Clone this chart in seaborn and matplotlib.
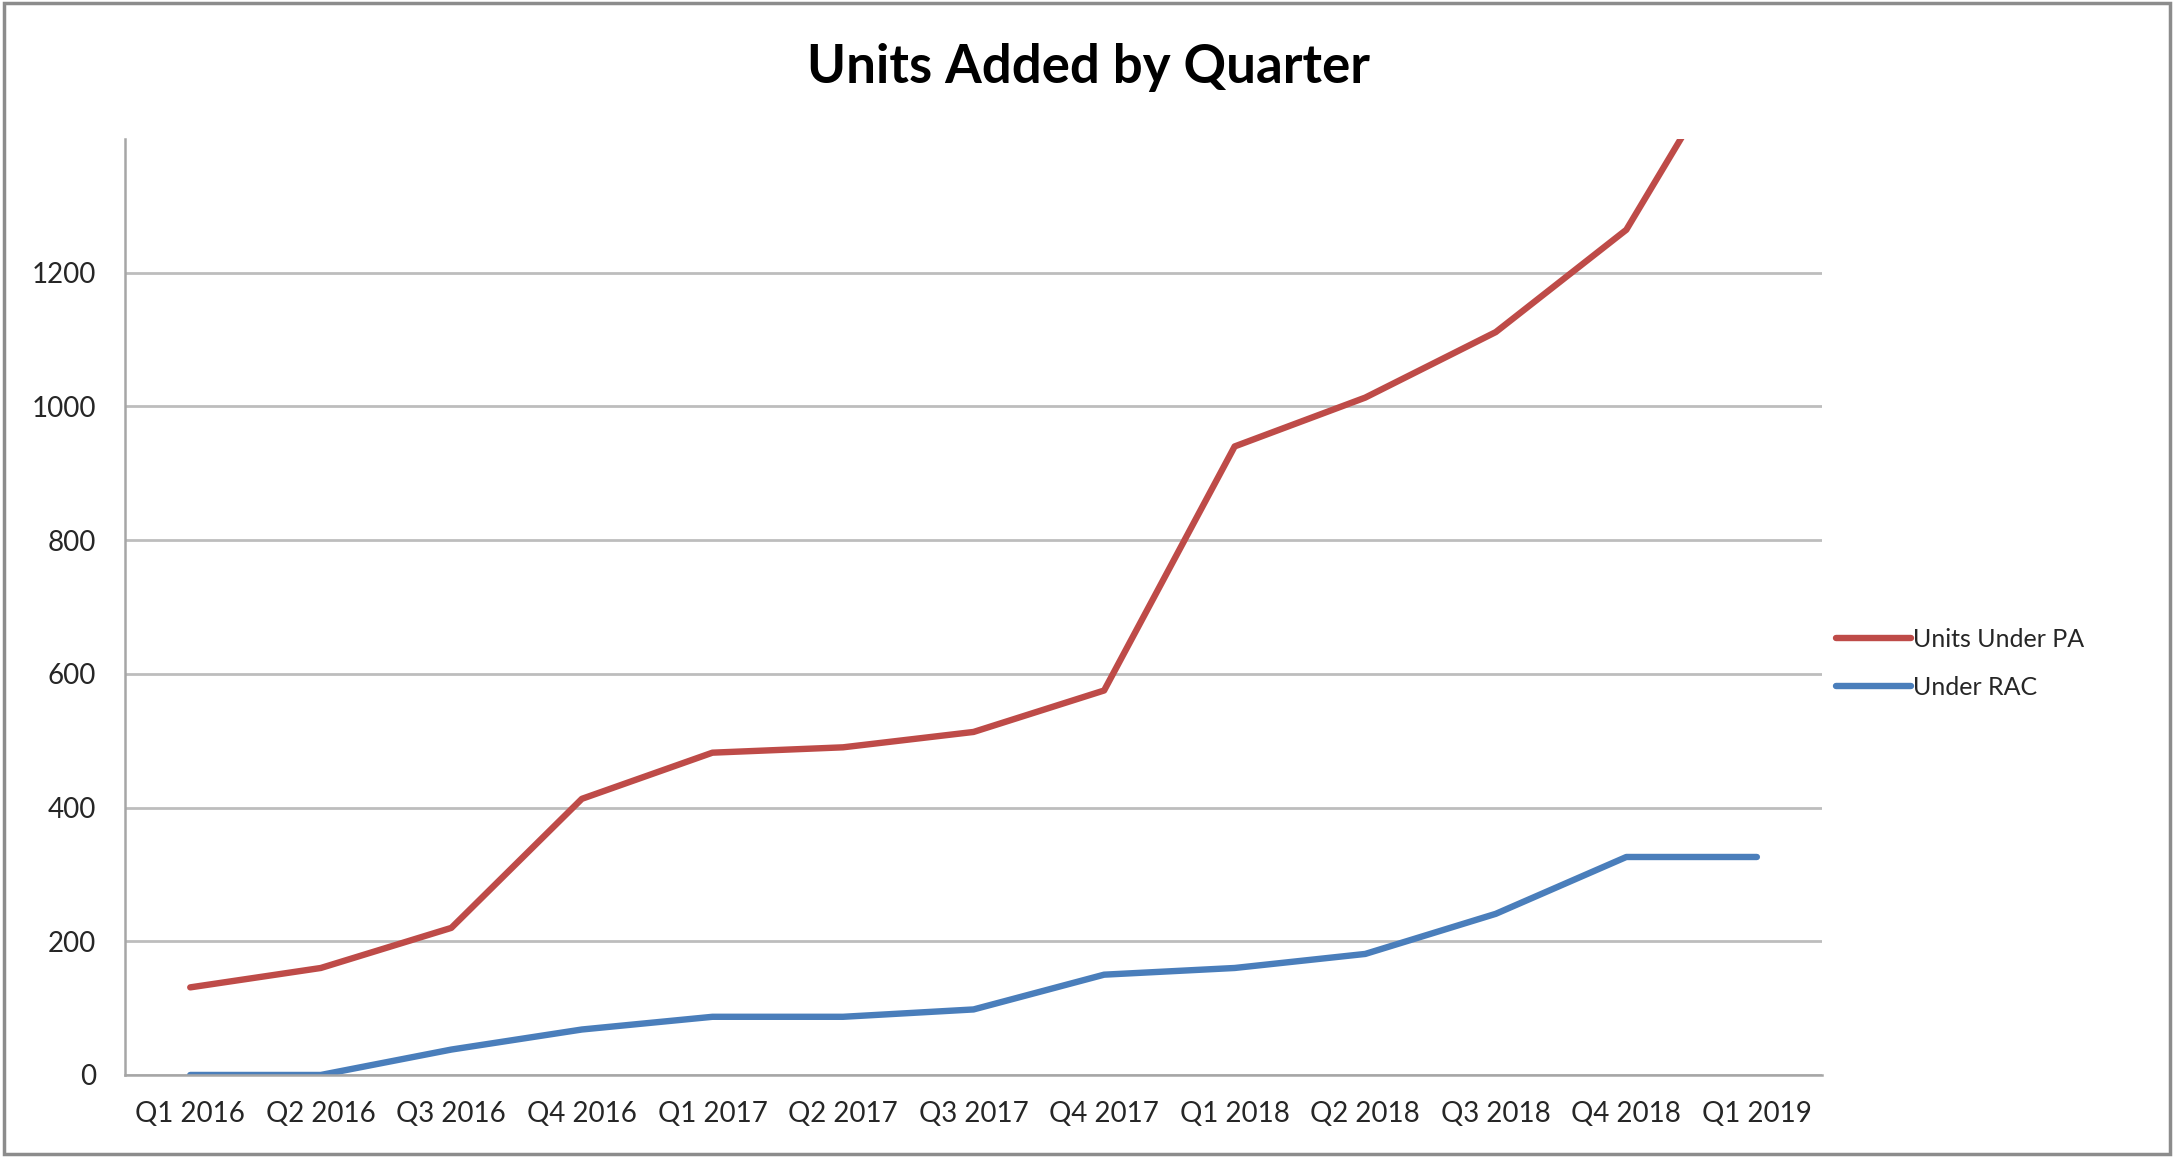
import pandas as pd
import matplotlib
matplotlib.use("Agg")
import matplotlib.pyplot as plt
import seaborn as sns
from matplotlib.patches import Rectangle

# --- data ---
quarters = ["Q1 2016", "Q2 2016", "Q3 2016", "Q4 2016",
            "Q1 2017", "Q2 2017", "Q3 2017", "Q4 2017",
            "Q1 2018", "Q2 2018", "Q3 2018", "Q4 2018", "Q1 2019"]
units_under_pa = [131, 160, 220, 413, 482, 490, 513, 575, 940, 1013, 1111, 1264, 1590]
under_rac = [0, 0, 38, 68, 87, 87, 98, 150, 160, 181, 241, 326, 326]
y_ticks = [0, 200, 400, 600, 800, 1000, 1200]

df = pd.DataFrame({
    "Quarter": quarters * 2,
    "Units": units_under_pa + under_rac,
    "Series": ["Units Under PA"] * len(quarters) + ["Under RAC"] * len(quarters),
})

sns.set_style("white")
plt.rcParams["font.family"] = ["Lato", "DejaVu Sans"]

fig = plt.figure(figsize=(21.77, 11.57), dpi=100)
ax = fig.add_axes([0.0574, 0.0709, 0.7796, 0.8091])

sns.lineplot(data=df, x="Quarter", y="Units", hue="Series", sort=False,
             palette={"Units Under PA": "#BE4B48", "Under RAC": "#4A7EBB"},
             linewidth=4.6, ax=ax)

ax.set_xlim(-0.5, len(quarters) - 0.5)
ax.set_ylim(0, 1400)
ax.set_yticks(y_ticks)
ax.yaxis.grid(True, color="#BDBDBD", linewidth=2)
ax.set_axisbelow(True)
ax.set_xlabel("")
ax.set_ylabel("")
ax.tick_params(axis="both", length=0, labelsize=20, labelcolor="#262626")
ax.tick_params(axis="x", pad=19)
ax.tick_params(axis="y", pad=21)

for side in ["top", "right"]:
    ax.spines[side].set_visible(False)
for side in ["left", "bottom"]:
    ax.spines[side].set_color("#A6A6A6")
    ax.spines[side].set_linewidth(1.8)

ax.legend(loc="center left", bbox_to_anchor=(1.002, 0.44), frameon=False,
          fontsize=18, handlelength=3.0, handletextpad=0.1, labelspacing=1.0,
          borderaxespad=0)

fig.suptitle("Units Added by Quarter", x=0.5, y=0.942, fontsize=38,
             fontweight="bold", color="black", va="center")

# grey frame round the whole chart
fig.patches.append(Rectangle((0.002, 0.003), 0.995, 0.994, transform=fig.transFigure,
                             fill=False, edgecolor="#8C8C8C", linewidth=2.5))

fig.savefig("out.png", dpi=100)
